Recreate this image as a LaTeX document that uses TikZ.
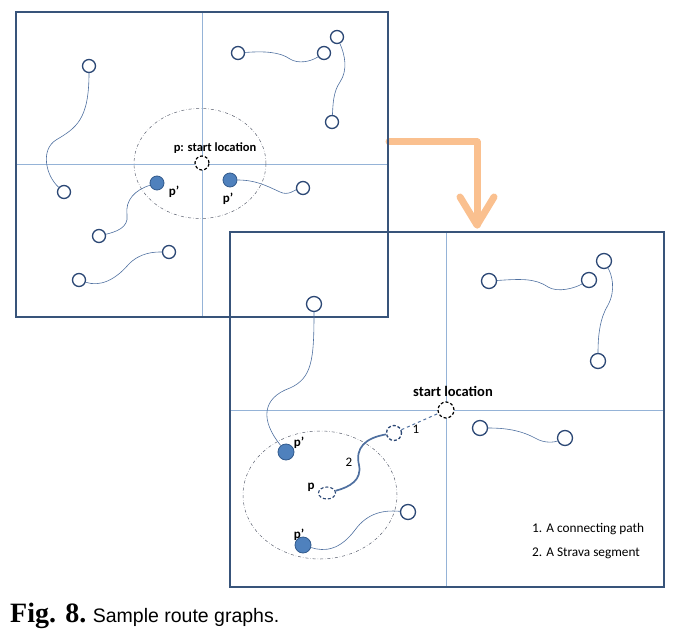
\documentclass[tikz,border=0pt]{standalone}
\usepackage{fontspec}
\usepackage{tikz}
\usetikzlibrary{arrows.meta, positioning, shapes.geometric, calc}

\newfontfamily\labelfont{Carlito}
\newfontfamily\capserif{Liberation Serif}
\newfontfamily\capsans{Liberation Sans}

\definecolor{framecol}{RGB}{56,84,122}
\definecolor{axiscol}{RGB}{149,179,215}
\definecolor{nodecol}{RGB}{44,72,117}
\definecolor{routecol}{RGB}{79,112,160}
\definecolor{pfill}{RGB}{79,129,189}
\definecolor{pdraw}{RGB}{50,90,140}
\definecolor{flowcol}{RGB}{250,192,143}
\definecolor{zonecol}{RGB}{90,95,110}

\tikzset{
    frame/.style={draw=framecol, line width=1.6pt},
    axis/.style={draw=axiscol, line width=0.8pt},
    zone/.style={draw=zonecol, dash dot, line width=0.5pt},
    stop/.style={circle, draw=nodecol, line width=1.3pt, fill=white,
        minimum size=13pt, inner sep=0pt},
    bigstop/.style={stop, minimum size=15pt},
    pprime/.style={circle, draw=pdraw, fill=pfill, line width=0.8pt,
        minimum size=14pt, inner sep=0pt},
    startpt/.style={circle, draw=black, densely dashed, line width=1.2pt,
        fill=white, minimum size=14pt, inner sep=0pt},
    route/.style={draw=routecol, line width=0.6pt},
    lbl/.style={font=\labelfont\bfseries\fontsize{13}{14}\selectfont, inner sep=0pt},
    numlbl/.style={font=\labelfont\fontsize{13}{14}\selectfont, inner sep=0pt},
    legendtext/.style={anchor=west, font=\labelfont\fontsize{13.3}{15}\selectfont, inner sep=0pt},
    flow/.style={draw=flowcol, line width=7pt, line cap=round, line join=round}
}

\begin{document}
\begin{tikzpicture}[x=1pt, y=-1pt]

    \useasboundingbox (0,0) rectangle (684,631);

    % ============================================================
    % TRANSITION ARROW
    % ============================================================
    \coordinate (flowstart) at (389,142);
    \coordinate (flowtip) at (477,225);
    \draw[flow] (flowstart) -| (flowtip);
    \draw[flow] ($(flowtip)+(-17,-28)$) -- (flowtip) -- ($(flowtip)+(17,-28)$);

    % ============================================================
    % FRAMES AND AXES
    % ============================================================
    \draw[axis] (202,12) -- (202,317);
    \draw[axis] (16,164) -- (388,164);
    \draw[axis] (446,232) -- (446,587);
    \draw[axis] (230,410) -- (664,410);
    \draw[frame] (16,12) rectangle (388,317);
    \draw[frame] (230,232) rectangle (664,587);

    % ============================================================
    % SEARCH ZONES
    % ============================================================
    \draw[zone] (200,163.5) ellipse [x radius=66pt, y radius=55pt];
    \draw[zone] (320,495) ellipse [x radius=77pt, y radius=64pt];

    % ============================================================
    % FIRST GRAPH
    % ============================================================
    \node[stop] (a1) at (89,66) {};
    \node[stop] (a2) at (64,192) {};
    \node[stop] (b1) at (238,53) {};
    \node[stop] (b2) at (324,53) {};
    \node[stop] (b3) at (337,37) {};
    \node[stop] (b4) at (332,122) {};
    \node[stop] (c1) at (303,188) {};
    \node[stop] (d1) at (99,236) {};
    \node[stop] (e1) at (169,252) {};
    \node[stop] (e2) at (79,280) {};
    \node[startpt] (start1) at (202,163) {};
    \node[pprime] (p1l) at (157,183) {};
    \node[pprime] (p1r) at (230,180) {};

    \draw[route] (a1) .. controls (89,120) and (76,128) .. (56,140)
        .. controls (40,150) and (46,176) .. (a2);
    \draw[route] (b1) .. controls (265,51) and (280,52) .. (290,59)
        .. controls (298,64) and (310,62) .. (b2);
    \draw[route] (b3) .. controls (345,55) and (348,70) .. (340,82)
        .. controls (333,92) and (333,105) .. (b4);
    \draw[route] (p1r) .. controls (255,180) and (265,185) .. (280,192)
        .. controls (288,196) and (295,190) .. (c1);
    \draw[route] (p1l) .. controls (135,190) and (125,200) .. (127,215)
        .. controls (129,228) and (115,232) .. (d1);
    \draw[route] (e2) .. controls (100,287) and (115,280) .. (128,265)
        .. controls (140,252) and (155,252) .. (e1);

    \node[lbl, font=\labelfont\bfseries\fontsize{12.5}{14}\selectfont] (start1lbl) at (215,148) {p: start location};
    \node[lbl] (p1llbl) at (174,192) {p’};
    \node[lbl] (p1rlbl) at (228,199) {p’};

    % ============================================================
    % SECOND GRAPH
    % ============================================================
    \node[bigstop] (f1) at (314,304) {};
    \node[bigstop] (g1) at (489,281) {};
    \node[bigstop] (g2) at (589,280) {};
    \node[bigstop] (g3) at (604,261) {};
    \node[bigstop] (g4) at (598,361) {};
    \node[bigstop] (h1) at (480,428) {};
    \node[bigstop] (h2) at (565,438) {};
    \node[bigstop] (k1) at (408,512) {};
    \node[bigstop, densely dashed] (q) at (394,433) {};
    \node[ellipse, draw=nodecol, densely dashed, line width=1.1pt, fill=white,
        minimum width=17pt, minimum height=12pt, inner sep=0pt] (pnode) at (327,493) {};
    \node[startpt, minimum size=16pt] (start2) at (446,410) {};
    \node[pprime, minimum size=16pt] (p2a) at (286,452) {};
    \node[pprime, minimum size=16pt] (p2b) at (303,545) {};

    \draw[route] (f1) .. controls (314,360) and (312,378) .. (290,388)
        .. controls (262,398) and (260,420) .. (p2a);
    \draw[route] (g1) .. controls (520,279) and (535,278) .. (548,287)
        .. controls (558,293) and (575,288) .. (g2);
    \draw[route] (g3) .. controls (612,275) and (616,290) .. (608,305)
        .. controls (600,318) and (598,335) .. (g4);
    \draw[route] (h1) .. controls (505,428) and (520,430) .. (535,438)
        .. controls (545,444) and (555,442) .. (h2);
    \draw[route] (p2b) .. controls (325,552) and (340,550) .. (355,530)
        .. controls (368,512) and (385,510) .. (k1);
    \draw[route, line width=1.7pt] (pnode) .. controls (350,487) and (362,480) .. (359,465)
        .. controls (355,448) and (365,438) .. (q);
    \draw[route, dashed, line width=1pt] (q) -- (start2);

    \node[lbl, font=\labelfont\bfseries\fontsize{14.5}{16}\selectfont] (start2lbl) at (453,391) {start location};
    \node[lbl] (p2albl) at (299,443) {p’};
    \node[lbl] (p2blbl) at (299,535) {p’};
    \node[lbl] (plbl) at (311,487) {p};
    \node[numlbl] (onelbl) at (416,429) {1};
    \node[numlbl] (twolbl) at (349,462) {2};

    % ============================================================
    % LEGEND
    % ============================================================
    \node[legendtext] (legend1) at (532,529) {1. A connecting path};
    \node[legendtext] (legend2) at (532,553) {2. A Strava segment};

    % ============================================================
    % CAPTION
    % ============================================================
    \node[anchor=base west, inner sep=0pt, font=\capserif\bfseries\fontsize{28}{30}\selectfont]
        (figtag) at (10,622) {Fig. 8.};
    \node[anchor=base west, inner sep=0pt, font=\capsans\fontsize{19.5}{22}\selectfont]
        (figcap) at ($(figtag.base east)+(6,0)$) {Sample route graphs.};

\end{tikzpicture}
\end{document}
